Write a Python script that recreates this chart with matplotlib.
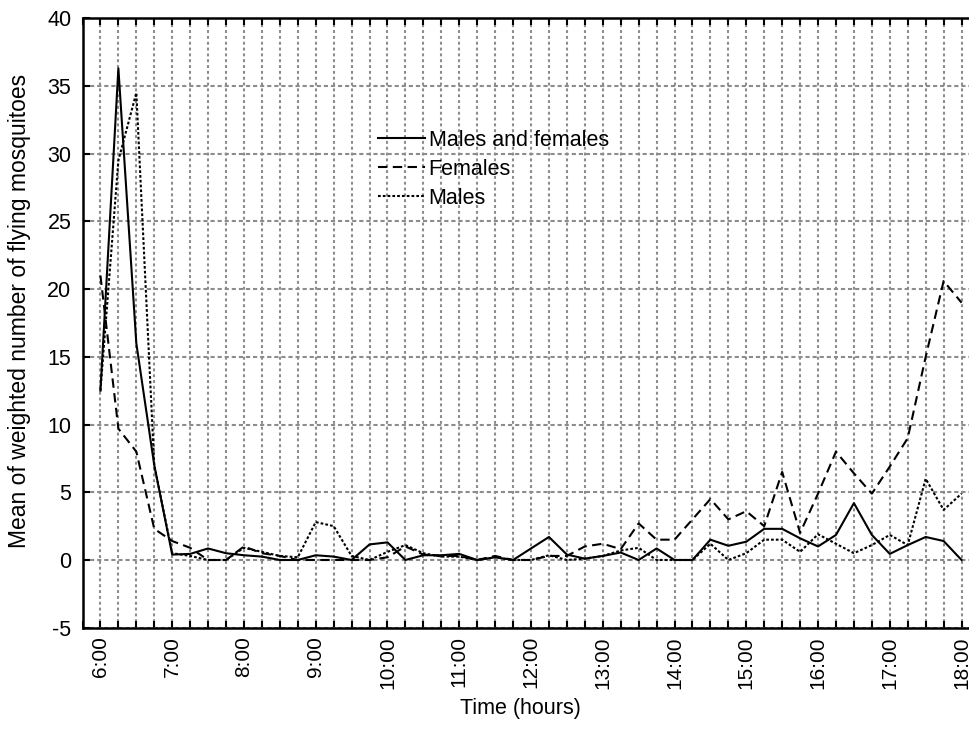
import numpy as np
import matplotlib
matplotlib.use("Agg")
import matplotlib.pyplot as plt
from matplotlib.ticker import MultipleLocator, FixedLocator

plt.rcParams['font.family'] = ['Liberation Sans', 'DejaVu Sans']
plt.rcParams['axes.unicode_minus'] = False

# readings every 15 minutes, 6:00 .. 18:00
times = 6 + 0.25 * np.arange(49)
both = [12.5, 36.3, 16, 7,
        0.4, 0.45, 0.85, 0.5,
        0.35, 0.25, 0, 0,
        0.35, 0.25, 0, 1.15,
        1.3, 0, 0.35, 0.35,
        0.45, 0, 0.2, 0,
        0.85, 1.7, 0.4, 0.1,
        0.3, 0.55, 0, 0.85,
        0, 0, 1.5, 1.05,
        1.35, 2.3, 2.3, 1.6,
        1.0, 1.85, 4.2, 1.85,
        0.45, 1.1, 1.7, 1.4,
        0]
females = [21, 9.7, 8.0, 2.3,
           1.4, 0.9, 0, 0,
           1.0, 0.5, 0.3, 0,
           0, 0, 0, 0,
           0.2, 1.0, 0.4, 0.3,
           0.3, 0, 0.3, 0,
           0, 0.3, 0.3, 1.0,
           1.2, 0.8, 2.7, 1.5,
           1.5, 3.0, 4.5, 3.0,
           3.6, 2.5, 6.5, 2.0,
           4.9, 8.0, 6.4, 4.9,
           6.9, 9.0, 15.0, 20.6,
           19.0]
males = [12.5, 29.5, 34.5, 7,
         0.5, 0.3, 0, 0,
         0.9, 0.6, 0.3, 0.2,
         2.8, 2.5, 0.3, 0,
         0.6, 1.1, 0.5, 0.25,
         0.25, 0, 0.2, 0,
         0, 0.35, 0, 0.1,
         0.3, 0.7, 0.9, 0,
         0, 0, 1.2, 0,
         0.5, 1.5, 1.5, 0.6,
         1.9, 1.2, 0.5, 1.1,
         1.85, 1.1, 6.0, 3.7,
         4.9]
hour_labels = ['%d:00' % h for h in range(6, 19)]

fig = plt.figure(figsize=(9.7, 7.4), dpi=100)
ax = fig.add_axes([82.5 / 970, 112.3 / 740, 897 / 970, 609.4 / 740])

ax.plot(times, both, color='black', lw=1.5, ls='-', label='Males and females')
ax.plot(times, females, color='black', lw=1.5, ls=(0, (4.5, 2.6)), label='Females')
ax.plot(times, males, color='black', lw=1.5, ls=(0, (1.3, 1.0)), label='Males')

ax.set_xlim(5.75, 18.25)
ax.set_ylim(-5, 40)
ax.xaxis.set_major_locator(FixedLocator(range(6, 19)))
ax.xaxis.set_minor_locator(MultipleLocator(0.25))
ax.set_xticklabels(hour_labels, rotation=90)
ax.yaxis.set_major_locator(MultipleLocator(5))

grid_kw = dict(color='#8c8c8c', lw=1.5, ls=(0, (1.4, 1.4)))
ax.grid(which='minor', axis='x', **grid_kw)
ax.grid(which='major', axis='x', **grid_kw)
ax.grid(which='major', axis='y', color='#8c8c8c', lw=1.5, ls=(0, (2, 1.4)))
ax.set_axisbelow(True)

ax.tick_params(which='both', direction='in', top=True, right=True, width=1.5, length=5)
ax.tick_params(axis='y', pad=8, labelsize=15.5)
ax.tick_params(axis='x', pad=6, labelsize=15)
for s in ax.spines.values():
    s.set_linewidth(1.8)

ax.set_xlabel('Time (hours)', fontsize=15.5)
ax.xaxis.set_label_coords(0.488, -0.115)
ax.set_ylabel('Mean of weighted number of flying mosquitoes', fontsize=16.5)
ax.yaxis.set_label_coords(-0.0574, 0.519)

ax.legend(loc='upper left', bbox_to_anchor=(378 / 970, 1 - 130 / 740), bbox_transform=fig.transFigure,
          frameon=False, fontsize=15.5, handlelength=2.2, handletextpad=0.15, labelspacing=0.37,
          borderaxespad=0, borderpad=0)

fig.savefig('out.png', dpi=100)
